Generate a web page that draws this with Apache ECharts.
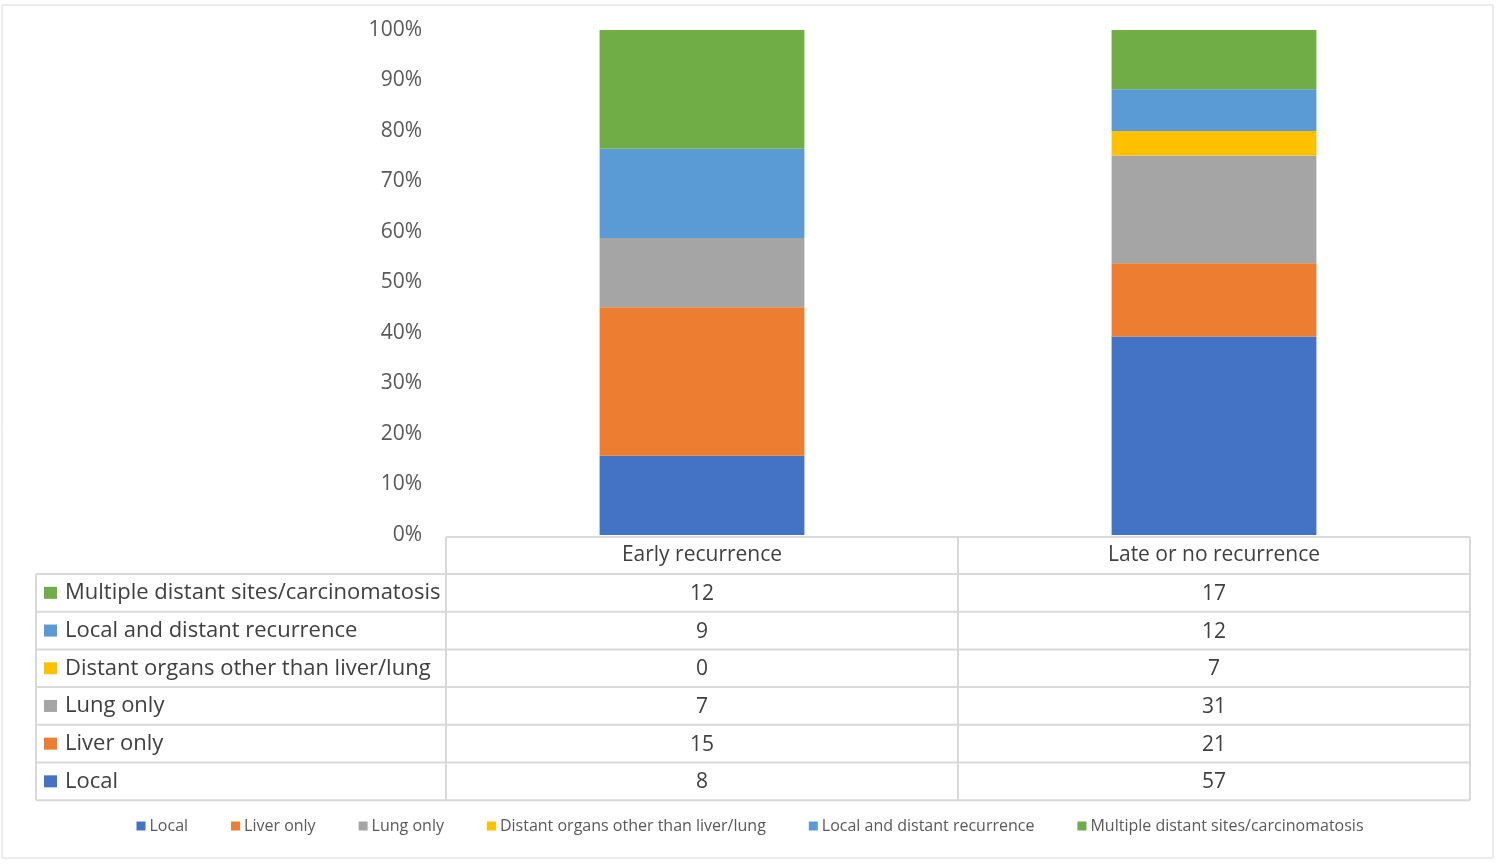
<!DOCTYPE html>
<html>
<head>
<meta charset="utf-8">
<script src="https://cdn.jsdelivr.net/npm/echarts@6/dist/echarts.min.js"></script>
<style>
html,body{margin:0;padding:0;background:#fff;}
#chart{width:1500px;height:865px;}
</style>
</head>
<body>
<div id="chart"></div>
<script>
// ---- data ----
const categories = ['Early recurrence', 'Late or no recurrence'];
const seriesNames = ['Local', 'Liver only', 'Lung only', 'Distant organs other than liver/lung', 'Local and distant recurrence', 'Multiple distant sites/carcinomatosis'];
const local = [8, 57];
const liverOnly = [15, 21];
const lungOnly = [7, 31];
const distantOther = [0, 7];
const localDistant = [9, 12];
const multipleSites = [12, 17];
const yTicks = [0, 10, 20, 30, 40, 50, 60, 70, 80, 90, 100];

// ---- style ----
const colors = ['#4472C4', '#ED7D31', '#A5A5A5', '#FFC000', '#5B9BD5', '#70AD47'];
const counts = [local, liverOnly, lungOnly, distantOther, localDistant, multipleSites];
const totals = categories.map((c, i) => counts.reduce((s, arr) => s + arr[i], 0));

const font = '"Open Sans", "Noto Sans", sans-serif';
const gridLeft = 446, gridRight = 30, gridTop = 30, gridBottom = 330;

const chart = echarts.init(document.getElementById('chart'), null, {renderer: 'canvas'});

const series = seriesNames.map((name, k) => ({
  name: name,
  type: 'bar',
  stack: 'total',
  barWidth: '40%',
  itemStyle: {color: colors[k]},
  emphasis: {disabled: true},
  data: counts[k].map((v, i) => v / totals[i] * 100)
}));

chart.setOption({
  animation: false,
  backgroundColor: '#fff',
  grid: {left: gridLeft, right: gridRight, top: gridTop, bottom: gridBottom, containLabel: false},
  legend: {
    bottom: 26,
    left: 'center',
    icon: 'rect',
    itemWidth: 9,
    itemHeight: 9,
    itemGap: 43,
    textStyle: {fontFamily: font, fontSize: 16, color: '#595959', padding: [0, 0, 0, -1]},
    data: seriesNames
  },
  xAxis: {
    type: 'category',
    data: categories,
    axisLine: {show: false},
    axisTick: {show: false},
    axisLabel: {fontFamily: font, fontSize: 21, color: '#404040', margin: 10}
  },
  yAxis: {
    type: 'value',
    min: 0,
    max: 100,
    interval: 10,
    axisLine: {show: false},
    axisTick: {show: false},
    splitLine: {show: false},
    axisLabel: {
      fontFamily: font, fontSize: 21, color: '#595959', margin: 24,
      formatter: v => (yTicks.indexOf(v) >= 0 ? v + '%' : '')
    }
  },
  series: series
});

// ---- data table drawn under the plot ----
const xCenters = categories.map(c => chart.convertToPixel({xAxisIndex: 0}, c));
const bandW = xCenters[1] - xCenters[0];
const xStart = xCenters[0] - bandW / 2;
const xEnd = xCenters[xCenters.length - 1] + bandW / 2;
const tableLeft = 36;
const headerTop = 537;
const rowH = 37.7;
const headerBottom = 574;
const lineColor = '#D9D9D9';
const graphics = [];

// outer border of the whole figure
graphics.push({type: 'rect', shape: {x: 2, y: 5, width: 1491, height: 853}, style: {fill: null, stroke: '#D9D9D9', lineWidth: 1}, silent: true});

const rowOrder = [5, 4, 3, 2, 1, 0];
const tableBottom = headerBottom + rowH * rowOrder.length;
function hLine(x1, x2, y) {
  graphics.push({type: 'line', shape: {x1: x1, y1: y, x2: x2, y2: y}, style: {stroke: lineColor, lineWidth: 2}, silent: true});
}
function vLine(x, y1, y2) {
  graphics.push({type: 'line', shape: {x1: x, y1: y1, x2: x, y2: y2}, style: {stroke: lineColor, lineWidth: 2}, silent: true});
}
hLine(xStart, xEnd, headerTop);
for (let r = 0; r <= rowOrder.length; r++) {
  hLine(tableLeft, xEnd, headerBottom + r * rowH);
}
vLine(tableLeft, headerBottom, tableBottom);
vLine(xStart, headerTop, tableBottom);
xCenters.forEach(xc => vLine(xc + bandW / 2, headerTop, tableBottom));

rowOrder.forEach((k, r) => {
  const yc = headerBottom + r * rowH + rowH / 2;
  graphics.push({type: 'rect', shape: {x: 44, y: yc - 6, width: 13, height: 12}, style: {fill: colors[k]}, silent: true});
  graphics.push({type: 'text', x: 65, y: yc, style: {text: seriesNames[k], fontFamily: font, fontSize: 22, fill: '#404040', verticalAlign: 'middle', align: 'left'}, silent: true});
  xCenters.forEach((xc, i) => {
    graphics.push({type: 'text', x: xc, y: yc + 1, style: {text: String(counts[k][i]), fontFamily: font, fontSize: 21, fill: '#404040', verticalAlign: 'middle', align: 'center'}, silent: true});
  });
});

chart.setOption({graphic: {elements: graphics}});
</script>
</body>
</html>
